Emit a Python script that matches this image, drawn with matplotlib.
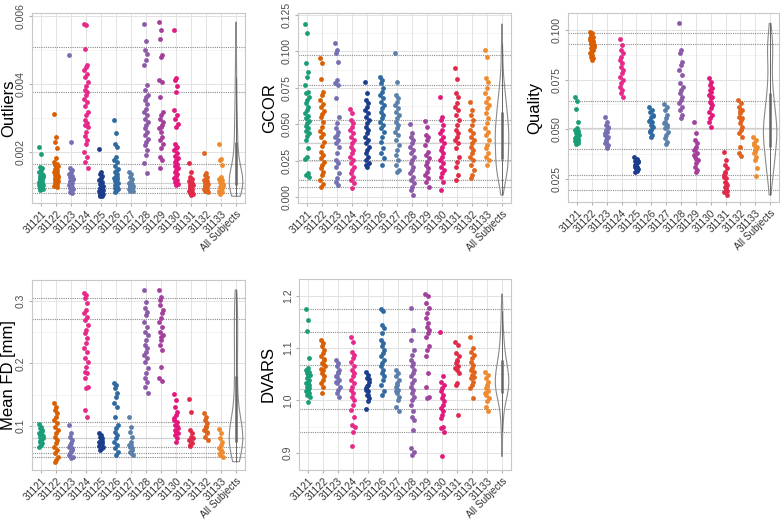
import numpy as np
import matplotlib
matplotlib.use('Agg')
import matplotlib.pyplot as plt

plt.rcParams['font.family'] = ['Liberation Sans', 'DejaVu Sans']

subjects = ['31121', '31122', '31123', '31124', '31125', '31126', '31127',
            '31128', '31129', '31130', '31131', '31132', '31133']
colors = ['#1b9e77', '#d95f02', '#7570b3', '#e7298a', '#1c3c8c', '#2f6aa0',
          '#5b80aa', '#8c5aa8', '#a53f9c', '#e2187c', '#e02a4a', '#e0641e', '#f08a2e']

# values, one list per subject
outliers = [
    [.00216, .00194, .00157, .00152, .00148, .00140, .00135, .00130, .00127, .00123, .00120, .00117, .00114,
     .00111, .00108, .00105, .00102, .00100, .00098, .00096, .00094, .00092, .00090, .00088, .00110, .00118,
     .00103, .00097, .00125, .00132],
    [.00311, .00245, .00230, .00211, .00184, .00172, .00166, .00162, .00158, .00155, .00150, .00147, .00143,
     .00140, .00137, .00134, .00130, .00127, .00124, .00121, .00118, .00115, .00112, .00109, .00106, .00103,
     .00100, .00098, .00145, .00128],
    [.00485, .00230, .00152, .00147, .00140, .00135, .00130, .00126, .00122, .00118, .00114, .00110, .00106,
     .00102, .00098, .00094, .00090, .00086, .00082, .00079, .00112, .00120],
    [.00578, .00576, .00505, .00456, .00451, .00441, .00431, .00420, .00407, .00394, .00384, .00377, .00368,
     .00358, .00348, .00335, .00319, .00309, .00296, .00286, .00279, .00273, .00260, .00247, .00237, .00225,
     .00201, .00186, .00172, .00152],
    [.00208, .00140, .00136, .00130, .00124, .00118, .00112, .00106, .00101, .00097, .00093, .00090, .00087,
     .00084, .00082, .00080, .00078, .00076, .00074, .00072, .00070, .00088, .00095, .00085],
    [.00296, .00257, .00224, .00216, .00186, .00178, .00170, .00160, .00150, .00145, .00140, .00135, .00130,
     .00125, .00120, .00115, .00110, .00106, .00102, .00098, .00094, .00090, .00086, .00083, .00128, .00112],
    [.00142, .00136, .00128, .00120, .00114, .00110, .00106, .00103, .00100, .00098, .00096, .00094, .00092,
     .00090, .00088, .00086, .00084, .00099, .00101, .00095, .00091],
    [.00578, .00527, .00502, .00490, .00471, .00456, .00397, .00382, .00368, .00363, .00353, .00343, .00328,
     .00319, .00309, .00299, .00289, .00279, .00270, .00260, .00250, .00240, .00230, .00221, .00206, .00191,
     .00167, .00137],
    [.00583, .00559, .00534, .00485, .00480, .00412, .00407, .00363, .00319, .00309, .00299, .00279, .00275,
     .00270, .00245, .00235, .00225, .00211, .00186, .00176, .00152, .00290, .00260],
    [.00561, .00417, .00412, .00394, .00377, .00324, .00309, .00299, .00284, .00275, .00225, .00216, .00211,
     .00206, .00196, .00190, .00184, .00178, .00172, .00166, .00160, .00154, .00148, .00142, .00136, .00130,
     .00124, .00118, .00112, .00106, .00103],
    [.00167, .00142, .00127, .00122, .00118, .00114, .00110, .00106, .00102, .00098, .00095, .00092, .00089,
     .00086, .00083, .00080, .00077, .00075, .00100, .00104, .00090],
    [.00196, .00137, .00132, .00127, .00122, .00118, .00114, .00110, .00106, .00103, .00100, .00097, .00094,
     .00091, .00088, .00085, .00083, .00108, .00099],
    [.00224, .00181, .00176, .00162, .00127, .00122, .00117, .00112, .00107, .00102, .00098, .00094, .00090,
     .00086, .00082, .00078, .00100, .00110],
]

gcor = [
    [.1188, .1124, .0918, .0861, .0826, .0769, .0723, .0712, .0689, .0666, .0643, .0620, .0598, .0575, .0556,
     .0540, .0524, .0506, .0488, .0472, .0456, .0437, .0419, .0391, .0334, .0277, .0259, .0163, .0151, .0140],
    [.0952, .0918, .0808, .0723, .0701, .0666, .0639, .0616, .0593, .0570, .0547, .0517, .0483, .0456, .0433,
     .0410, .0380, .0350, .0311, .0288, .0266, .0243, .0220, .0197, .0174, .0151, .0117, .0089, .0071],
    [.1060, .1010, .0987, .0929, .0804, .0785, .0769, .0678, .0552, .0506, .0472, .0449, .0426, .0414, .0391,
     .0369, .0346, .0300, .0254, .0231, .0208, .0163, .0128, .0105, .0082],
    [.0602, .0575, .0529, .0506, .0483, .0460, .0437, .0414, .0391, .0369, .0346, .0323, .0300, .0277, .0254,
     .0231, .0208, .0185, .0163, .0140, .0117, .0094, .0060],
    [.0792, .0712, .0666, .0643, .0620, .0598, .0575, .0552, .0529, .0506, .0483, .0460, .0437, .0414, .0391,
     .0369, .0346, .0323, .0300, .0277, .0254, .0231, .0208, .0220],
    [.0826, .0804, .0781, .0746, .0723, .0701, .0678, .0655, .0632, .0609, .0586, .0563, .0540, .0517, .0495,
     .0472, .0449, .0414, .0380, .0334, .0300, .0266, .0220],
    [.0991, .0792, .0701, .0678, .0655, .0632, .0609, .0586, .0563, .0540, .0517, .0495, .0472, .0449, .0426,
     .0391, .0357, .0323, .0288, .0254, .0220, .0185, .0174],
    [.0501, .0437, .0414, .0391, .0369, .0346, .0323, .0300, .0277, .0254, .0231, .0208, .0185, .0163, .0140,
     .0117, .0094, .0071, .0048, .0014],
    [.0524, .0483, .0426, .0414, .0391, .0357, .0311, .0288, .0266, .0243, .0220, .0197, .0174, .0151, .0128,
     .0105, .0071],
    [.0689, .0552, .0529, .0495, .0460, .0437, .0414, .0391, .0369, .0346, .0323, .0300, .0277, .0254, .0231,
     .0208, .0185, .0163, .0140, .0105, .0048],
    [.0884, .0810, .0712, .0689, .0643, .0620, .0598, .0563, .0529, .0495, .0460, .0437, .0414, .0391, .0369,
     .0334, .0277, .0243, .0208, .0151, .0117],
    [.0655, .0598, .0563, .0529, .0495, .0460, .0437, .0414, .0391, .0369, .0346, .0323, .0300, .0277, .0254,
     .0220, .0185, .0151, .0128],
    [.1010, .0964, .0815, .0792, .0746, .0712, .0678, .0655, .0632, .0609, .0575, .0540, .0506, .0472, .0449,
     .0426, .0391, .0357, .0334, .0300, .0277, .0254, .0220],
]

quality = [
    [.0664, .0644, .0600, .0538, .0505, .0496, .0488, .0480, .0473, .0466, .0460, .0453, .0446, .0439, .0433,
     .0426, .0490, .0470, .0456, .0443, .0462],
    [.0991, .0983, .0974, .0966, .0958, .0949, .0941, .0933, .0924, .0916, .0908, .0899, .0891, .0883, .0874,
     .0866, .0857, .0849, .0960, .0945, .0930, .0912, .0895, .0978],
    [.0564, .0538, .0522, .0505, .0488, .0471, .0455, .0438, .0421, .0404, .0480, .0460, .0445, .0430, .0415,
     .0495, .0510],
    [.0953, .0924, .0899, .0882, .0865, .0849, .0832, .0815, .0798, .0782, .0765, .0748, .0731, .0714, .0698,
     .0681, .0664],
    [.0362, .0352, .0342, .0335, .0328, .0320, .0312, .0305, .0298, .0292, .0287, .0340, .0325, .0310, .0300],
    [.0610, .0597, .0585, .0572, .0560, .0547, .0535, .0522, .0510, .0497, .0485, .0473, .0463, .0540, .0515,
     .0490, .0565],
    [.0626, .0614, .0597, .0572, .0555, .0538, .0522, .0505, .0488, .0471, .0455, .0438, .0426, .0530, .0510],
    [.1033, .0899, .0882, .0840, .0823, .0798, .0773, .0731, .0714, .0698, .0681, .0664, .0647, .0631, .0614,
     .0597, .0572, .0555],
    [.0535, .0480, .0446, .0429, .0413, .0396, .0379, .0362, .0346, .0329, .0312, .0295, .0287, .0370, .0350,
     .0400],
    [.0756, .0740, .0723, .0706, .0689, .0673, .0656, .0639, .0622, .0605, .0589, .0572, .0555, .0538, .0513,
     .0700, .0660, .0630],
    [.0384, .0346, .0320, .0304, .0287, .0270, .0253, .0237, .0220, .0203, .0186, .0170, .0280, .0260, .0230,
     .0210, .0190],
    [.0647, .0631, .0614, .0597, .0580, .0564, .0547, .0530, .0513, .0496, .0480, .0463, .0413, .0379, .0366,
     .0590, .0555],
    [.0463, .0446, .0429, .0413, .0396, .0379, .0362, .0346, .0304, .0267, .0420, .0400, .0385],
]

mean_fd = [
    [.1032, .0989, .0963, .0936, .0909, .0883, .0856, .0829, .0803, .0776, .0749, .0723, .0696, .0669, .0920,
     .0870, .0840, .0790, .0760, .0810],
    [.1373, .1309, .1256, .1203, .1149, .1096, .1043, .0989, .0936, .0883, .0829, .0776, .0723, .0669, .0616,
     .0563, .0509, .0456, .0429],
    [.1016, .0883, .0829, .0776, .0723, .0669, .0616, .0563, .0509, .0483, .0700, .0650, .0600, .0540],
    [.3133, .3096, .3043, .2963, .2856, .2803, .2749, .2696, .2616, .2536, .2483, .2403, .2323, .2243, .2189,
     .2083, .2029, .1949, .1869, .1843, .1763, .1629, .1603, .1256, .1149],
    [.0893, .0856, .0829, .0803, .0776, .0749, .0723, .0696, .0669, .0643, .0616, .0760, .0710, .0680, .0640],
    [.1693, .1656, .1603, .1523, .1469, .1363, .1309, .1149, .1016, .0963, .0909, .0856, .0803, .0749, .0696,
     .0643, .0589, .0536],
    [.1139, .0989, .0909, .0829, .0749, .0696, .0643, .0589, .0536, .0700, .0660, .0620, .0570],
    [.3176, .2989, .2883, .2829, .2776, .2669, .2589, .2509, .2456, .2376, .2296, .2243, .2189, .2136, .2083,
     .2029, .1923, .1843, .1763, .1709, .1629, .1533],
    [.3176, .3069, .3016, .2803, .2723, .2669, .2589, .2509, .2456, .2376, .2296, .2216, .1949, .1763, .1725,
     .2930, .2850, .2420],
    [.1512, .1416, .1309, .1229, .1176, .1123, .1069, .1016, .0963, .0909, .0856, .0803, .0749, .1100, .1000,
     .0930, .0880],
    [.1427, .1229, .0936, .0883, .0829, .0776, .0723, .0680, .0800, .0750, .0700],
    [.1213, .1149, .1096, .1043, .0989, .0936, .0883, .0829, .0776, .1000, .0950, .0900],
    [.0947, .0883, .0803, .0749, .0696, .0643, .0589, .0536, .0499, .0620, .0570],
]

dvars = [
    [1.174, 1.154, 1.132, 1.081, 1.062, 1.058, 1.055, 1.052, 1.049, 1.046, 1.042, 1.039, 1.036, 1.033, 1.030,
     1.026, 1.023, 1.020, 1.017, 1.014, 1.011, 1.007, 0.996],
    [1.116, 1.109, 1.103, 1.097, 1.090, 1.084, 1.077, 1.071, 1.065, 1.058, 1.052, 1.046, 1.039, 1.033, 1.026,
     1.015, 1.080, 1.070, 1.060],
    [1.077, 1.071, 1.065, 1.058, 1.052, 1.046, 1.039, 1.033, 1.026, 1.020, 1.014, 1.007, 1.045, 1.035, 1.055],
    [1.121, 1.112, 1.093, 1.087, 1.081, 1.074, 1.065, 1.058, 1.052, 1.046, 1.039, 1.033, 1.026, 1.020, 1.014,
     1.007, 1.001, 0.991, 0.982, 0.969, 0.953, 0.950, 0.940, 0.912],
    [1.055, 1.049, 1.042, 1.036, 1.030, 1.023, 1.017, 1.011, 1.004, 0.998, 0.983, 1.040, 1.027, 1.020, 1.010],
    [1.174, 1.170, 1.144, 1.138, 1.128, 1.116, 1.109, 1.103, 1.097, 1.090, 1.084, 1.077, 1.071, 1.065, 1.058,
     1.052, 1.046, 1.039, 1.030, 1.017, 1.011],
    [1.058, 1.052, 1.046, 1.039, 1.033, 1.026, 1.020, 1.014, 1.007, 1.001, 0.988, 0.979, 1.030, 1.017],
    [1.176, 1.135, 1.116, 1.097, 1.087, 1.077, 1.071, 1.065, 1.058, 1.052, 1.046, 1.039, 1.033, 1.026, 1.020,
     1.014, 1.007, 1.001, 0.991, 0.979, 0.969, 0.963, 0.944, 0.909, 0.902, 0.896],
    [1.203, 1.200, 1.186, 1.176, 1.167, 1.157, 1.148, 1.141, 1.135, 1.128, 1.122, 1.103, 1.097, 1.084, 1.052,
     1.026, 1.007, 1.004],
    [1.130, 1.047, 1.036, 1.030, 1.023, 1.017, 1.011, 1.004, 0.998, 0.991, 0.985, 0.979, 0.972, 0.966, 0.950,
     0.947, 0.940, 0.893],
    [1.112, 1.106, 1.090, 1.084, 1.077, 1.071, 1.065, 1.058, 1.052, 1.033, 1.030, 0.972, 1.075, 1.062],
    [1.122, 1.100, 1.093, 1.087, 1.081, 1.074, 1.068, 1.062, 1.055, 1.049, 1.042, 1.036, 1.030, 1.023, 1.004,
     1.058, 1.045],
    [1.055, 1.049, 1.042, 1.036, 1.030, 1.023, 1.017, 1.011, 1.004, 0.998, 0.988, 0.979, 1.025, 1.015],
]

# horizontal reference lines (dotted) and the light solid one, per panel
outliers_dotted = [0.0051, 0.00377, 0.00165, 0.00095, 0.0008]
gcor_dotted = [0.0975, 0.0769, 0.0529, 0.0254, 0.0117, 0.0066]
quality_dotted = [0.0983, 0.0929, 0.0642, 0.0401, 0.0270, 0.0195]
mean_fd_dotted = [0.3043, 0.2707, 0.1059, 0.0669, 0.0563, 0.0499]
dvars_dotted = [1.174, 1.130, 1.068, 0.983, 0.939]
solid_lines = [0.0011, 0.0369, 0.0505, 0.0803, 1.021]


def jitter(n, width=0.13):
    # evenly spread offsets (golden ratio sequence), no randomness
    return ((np.arange(n) * 0.618034) % 1.0 - 0.5) * 2 * width


def draw_panel(ax, values, ylabel, ylim, yticks, yticklabels, dotted, solid, label_x):
    n = len(subjects)
    ax.set_xlim(0.4, n + 1.6)
    ax.set_ylim(*ylim)

    # grid
    minor = [(a + b) / 2 for a, b in zip(yticks[:-1], yticks[1:])]
    minor = [yticks[0] - (yticks[1] - yticks[0]) / 2] + minor + [yticks[-1] + (yticks[1] - yticks[0]) / 2]
    for m in minor:
        ax.axhline(m, color='#f0f0f0', lw=0.5, zorder=0)
    for t in yticks:
        ax.axhline(t, color='#e3e3e3', lw=0.7, zorder=0)
    for i in range(1, n + 2):
        ax.axvline(i, color='#e3e3e3', lw=0.7, zorder=0)

    for d in dotted:
        ax.axhline(d, color='#8c8c8c', lw=0.8, ls=(0, (1, 1)), zorder=1)
    ax.axhline(solid, color='#d0d0d0', lw=0.9, zorder=1)

    for i, vals in enumerate(values):
        vals = np.asarray(vals)
        ax.scatter(i + 1 + jitter(len(vals)), vals, s=12, color=colors[i],
                   linewidths=0, zorder=3)

    # all subjects: violin + slim box
    allv = np.concatenate([np.asarray(v) for v in values])
    pos = n + 1
    parts = ax.violinplot(allv, positions=[pos], widths=0.9, showextrema=False)
    for body in parts['bodies']:
        body.set_facecolor('none')
        body.set_edgecolor('#8a8a8a')
        body.set_linewidth(0.8)
        body.set_alpha(1)
    q1, q3 = np.percentile(allv, [25, 75])
    iqr = q3 - q1
    lo = allv[allv >= q1 - 1.5 * iqr].min()
    hi = allv[allv <= q3 + 1.5 * iqr].max()
    ax.vlines(pos, lo, hi, color='#666666', lw=0.7, zorder=4)
    ax.vlines(pos, q1, q3, color='#666666', lw=1.8, zorder=4)

    ax.set_xticks(range(1, n + 2))
    ax.set_xticklabels(subjects + ['All Subjects'], rotation=45, ha='right',
                       rotation_mode='anchor', fontsize=7.2, color='#333333')
    ax.set_yticks(yticks)
    ax.set_yticklabels(yticklabels, rotation=90, va='center', fontsize=7.5, color='#4d4d4d')
    ax.tick_params(axis='both', length=2.5, color='#b0b0b0', pad=2)
    ax.set_ylabel(ylabel, fontsize=12)
    ax.yaxis.set_label_coords(label_x, 0.5)
    for sp in ax.spines.values():
        sp.set_color('#c8c8c8')
        sp.set_linewidth(0.8)


fig = plt.figure(figsize=(7.81, 5.20), dpi=100)

ax1 = fig.add_axes([0.041, 0.6096, 0.2727, 0.3654])
draw_panel(ax1, outliers, 'Outliers', (0.0005, 0.0061), [0.002, 0.004, 0.006],
           ['0.002', '0.004', '0.006'], outliers_dotted, solid_lines[0], -0.075)

ax2 = fig.add_axes([0.3816, 0.6096, 0.2727, 0.3654])
draw_panel(ax2, gcor, 'GCOR', (-0.0041, 0.1264), [0.0, 0.025, 0.05, 0.075, 0.1, 0.125],
           ['0.000', '0.025', '0.050', '0.075', '0.100', '0.125'], gcor_dotted, solid_lines[1], -0.10)

ax3 = fig.add_axes([0.7273, 0.6115, 0.2702, 0.3635])
draw_panel(ax3, quality, 'Quality', (0.0134, 0.1085), [0.025, 0.05, 0.075, 0.1],
           ['0.025', '0.050', '0.075', '0.100'], quality_dotted, solid_lines[2], -0.12)

ax4 = fig.add_axes([0.041, 0.0962, 0.2727, 0.3654])
draw_panel(ax4, mean_fd, 'Mean FD [mm]', (0.0296, 0.3336), [0.1, 0.2, 0.3],
           ['0.1', '0.2', '0.3'], mean_fd_dotted, solid_lines[3], -0.075)

ax5 = fig.add_axes([0.3828, 0.0962, 0.2715, 0.3673])
draw_panel(ax5, dvars, 'DVARS', (0.867, 1.232), [0.9, 1.0, 1.1, 1.2],
           ['0.9', '1.0', '1.1', '1.2'], dvars_dotted, solid_lines[4], -0.11)

fig.savefig('out.png', dpi=100, facecolor='white')
